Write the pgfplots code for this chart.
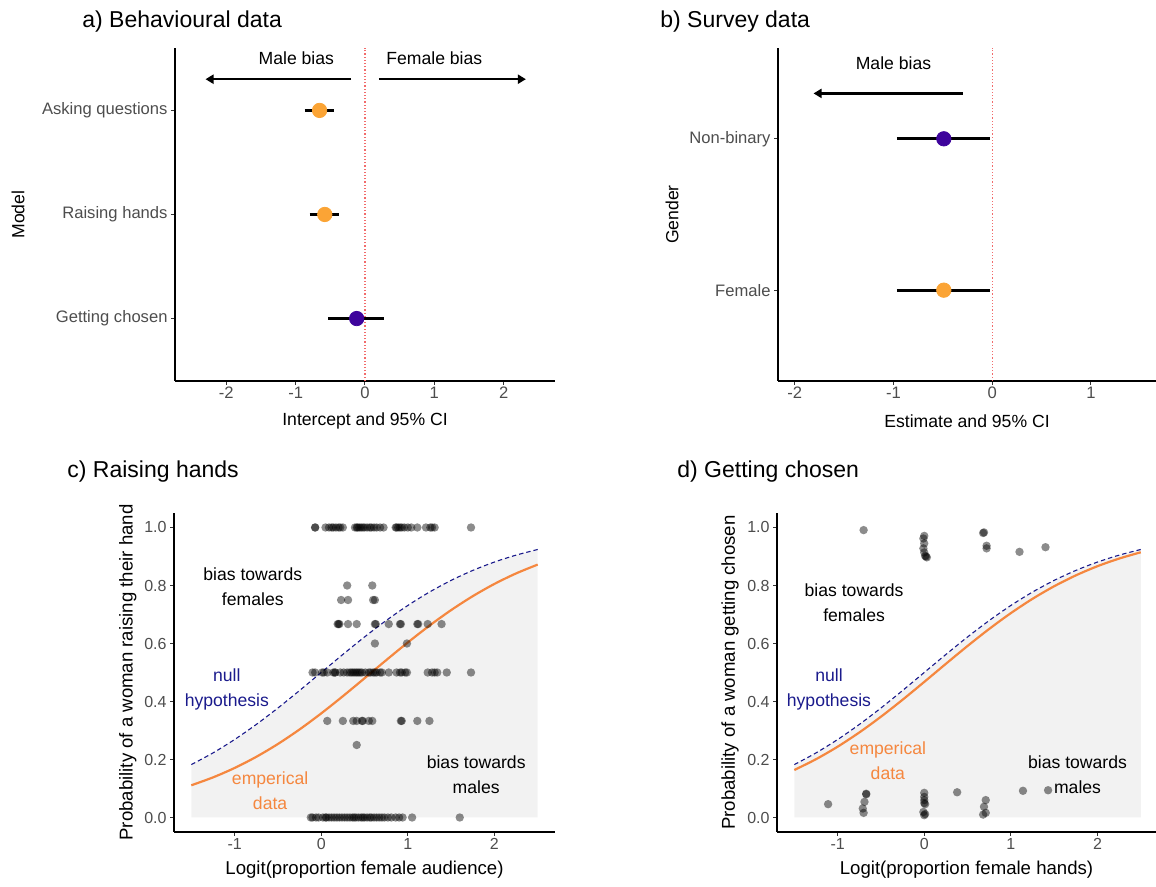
\documentclass[border=0pt]{standalone}
\usepackage{fontspec}
\setmainfont{Liberation Sans}
\setsansfont{Liberation Sans}
\usepackage{pgfplots}
\pgfplotsset{compat=1.18}
\usetikzlibrary{arrows.meta}

\definecolor{ptorange}{HTML}{FBA435}
\definecolor{ptpurple}{HTML}{3E049C}
\definecolor{nullblue}{HTML}{1A1A8C}
\definecolor{empor}{HTML}{F5873F}
\definecolor{vred}{HTML}{F26B6B}
\definecolor{ticktext}{HTML}{4D4D4D}

\tikzset{ann/.style={font=\fontsize{8.8}{12.5}\selectfont, align=center},
  ptitle/.style={anchor=west, inner sep=0pt, font=\fontsize{11.5}{13}\selectfont}}

\pgfplotsset{
  gg/.style={
    scale only axis,
    axis x line*=bottom,
    axis y line*=left,
    axis line style={line width=0.6pt, black},
    tick align=outside,
    major tick length=2pt,
    tick style={line width=0.5pt, black!80},
    ticklabel style={font=\fontsize{8.3}{10}\selectfont, text=ticktext},
    yticklabel style={xshift=1.8pt},
    xticklabel style={yshift=2.5pt},
    label style={font=\fontsize{8.8}{10}\selectfont},
    /pgf/number format/assume math mode=true,
    clip=false,
  },
  jit/.style={only marks, mark=*, mark size=2.1pt,
    mark options={fill=black, fill opacity=0.45, draw opacity=0}},
  ci/.style={black, line width=1.4pt},
  bigpt/.style={only marks, mark=*, mark size=3.6pt},
  biasarrow/.style={black, line width=1.2pt, -{Triangle[length=4pt,width=4.5pt]}},
}

\begin{document}
\begin{tikzpicture}
\path[use as bounding box] (0,0) rectangle (578pt,443.5pt);

% panel titles
\node[ptitle] at (41pt,432.5pt) {a) Behavioural data};
\node[ptitle] at (330pt,432.5pt) {b) Survey data};
\node[ptitle] at (33.5pt,207.5pt) {c) Raising hands};
\node[ptitle] at (338.5pt,207.5pt) {d) Getting chosen};

% a) Behavioural data
\begin{axis}[gg, at={(87.5pt,253pt)}, anchor=south west, width=190pt, height=166.5pt,
  xmin=-2.74, xmax=2.74, ymin=0.4, ymax=3.6,
  xtick={-2,-1,0,1,2}, ytick={1,2,3},
  yticklabels={Getting chosen, Raising hands, Asking questions},
  xlabel={Intercept and 95\% CI}, ylabel={Model},
  xlabel style={at={(axis description cs:0.5,-0.12)}, anchor=center},
  ylabel style={at={(axis description cs:-0.413,0.5)}, anchor=center},
]
\addplot[vred, densely dotted, line width=0.6pt] coordinates {(0,0.4) (0,3.6)};
\addplot[bigpt, mark options={fill=ptorange, draw=ptorange}] coordinates {(-0.655,3) (-0.58,2)};
\addplot[bigpt, mark options={fill=ptpurple, draw=ptpurple}] coordinates {(-0.12,1)};
\addplot[ci] coordinates {(-0.87,3) (-0.44,3)};
\addplot[ci] coordinates {(-0.80,2) (-0.38,2)};
\addplot[ci] coordinates {(-0.53,1) (0.28,1)};
\addplot[biasarrow] coordinates {(-0.2,3.3) (-2.3,3.3)};
\addplot[biasarrow] coordinates {(0.2,3.3) (2.32,3.3)};
\node[ann] at (axis cs:-0.99,3.5) {Male bias};
\node[ann] at (axis cs:1.0,3.5) {Female bias};
\end{axis}

% b) Survey data
\begin{axis}[gg, at={(389pt,253pt)}, anchor=south west, width=189pt, height=166.5pt,
  xmin=-2.17, xmax=1.66, ymin=0.4, ymax=2.6,
  xtick={-2,-1,0,1}, ytick={1,2},
  yticklabels={Female, Non-binary},
  xlabel={Estimate and 95\% CI}, ylabel={Gender},
  xlabel style={at={(axis description cs:0.5,-0.12)}, anchor=center},
  ylabel style={at={(axis description cs:-0.280,0.5)}, anchor=center},
]
\addplot[vred, densely dotted, line width=0.6pt] coordinates {(0,0.4) (0,2.6)};
\addplot[bigpt, mark options={fill=ptorange, draw=ptorange}] coordinates {(-0.49,1)};
\addplot[bigpt, mark options={fill=ptpurple, draw=ptpurple}] coordinates {(-0.49,2)};
\addplot[ci] coordinates {(-0.965,2) (-0.02,2)};
\addplot[ci] coordinates {(-0.965,1) (-0.02,1)};
\addplot[biasarrow] coordinates {(-0.30,2.3) (-1.81,2.3)};
\node[ann] at (axis cs:-1.0,2.5) {Male bias};
\end{axis}

% c) Raising hands
\begin{axis}[gg, at={(87pt,27.5pt)}, anchor=south west, width=190.5pt, height=159.5pt,
  xmin=-1.7, xmax=2.7, ymin=-0.05, ymax=1.05,
  xtick={-1,0,1,2}, ytick={0,0.2,0.4,0.6,0.8,1},
  yticklabel style={/pgf/number format/.cd, fixed, fixed zerofill, precision=1},
  ticklabel style={font=\fontsize{8}{10}\selectfont},
  label style={font=\fontsize{9.3}{11}\selectfont},
  xlabel={Logit(proportion female audience)},
  ylabel={Probability of a woman raising their hand},
  xlabel style={at={(axis description cs:0.5,-0.119)}, anchor=center},
  ylabel style={at={(axis description cs:-0.121,0.5)}, anchor=center},
]
\addplot[draw=none, fill=gray!10, smooth] coordinates {
(-1.5,0.18243) (-1.25,0.22270) (-1.0,0.26894) (-0.75,0.32082) (-0.5,0.37754)
(-0.25,0.43782) (0,0.5) (0.25,0.56218) (0.5,0.62246) (0.75,0.67918) (1.0,0.73106)
(1.25,0.77730) (1.5,0.81757) (1.75,0.85195) (2.0,0.88080) (2.25,0.90465) (2.5,0.92414)} \closedcycle;
\addplot[nullblue, line width=0.55pt, dash pattern=on 2.2pt off 1.5pt, smooth] coordinates {
(-1.5,0.18243) (-1.25,0.22270) (-1.0,0.26894) (-0.75,0.32082) (-0.5,0.37754)
(-0.25,0.43782) (0,0.5) (0.25,0.56218) (0.5,0.62246) (0.75,0.67918) (1.0,0.73106)
(1.25,0.77730) (1.5,0.81757) (1.75,0.85195) (2.0,0.88080) (2.25,0.90465) (2.5,0.92414)};
\addplot[empor, line width=1.1pt, smooth] coordinates {
(-1.5,0.11106) (-1.25,0.13824) (-1.0,0.17079) (-0.75,0.20916) (-0.5,0.25350)
(-0.25,0.30365) (0,0.35894) (0.25,0.41824) (0.5,0.48001) (0.75,0.54240) (1.0,0.60349)
(1.25,0.66150) (1.5,0.71505) (1.75,0.76314) (2.0,0.80535) (2.25,0.84157) (2.5,0.87213)};
% proportion 1
\addplot[jit] coordinates {
(-0.07,1) (-0.07,1) (0.05,1) (0.09,1) (0.12,1) (0.14,1) (0.17,1) (0.20,1) (0.22,1) (0.25,1)
(0.39,1) (0.41,1) (0.42,1) (0.44,1) (0.46,1) (0.48,1) (0.50,1) (0.53,1) (0.56,1) (0.58,1)
(0.61,1) (0.64,1) (0.68,1) (0.72,1) (0.86,1) (0.87,1) (0.89,1) (0.91,1) (0.93,1) (0.96,1)
(1.00,1) (1.04,1) (1.11,1) (1.21,1) (1.26,1) (1.28,1) (1.31,1) (1.73,1)};
% 0.8, 0.75, 0.667, 0.6
\addplot[jit] coordinates {
(0.30,0.8) (0.59,0.8)
(0.23,0.75) (0.31,0.75) (0.60,0.75) (0.62,0.75)
(0.19,0.667) (0.20,0.667) (0.21,0.667) (0.31,0.667) (0.41,0.667) (0.62,0.667) (0.63,0.667)
(0.78,0.667) (0.91,0.667) (0.92,0.667) (1.11,0.667) (1.12,0.667) (1.23,0.667) (1.39,0.667)
(0.62,0.6) (0.99,0.6)};
% 0.5
\addplot[jit] coordinates {
(-0.10,0.5) (-0.07,0.5) (0.01,0.5) (0.03,0.5) (0.07,0.5) (0.14,0.5) (0.16,0.5) (0.16,0.5)
(0.22,0.5) (0.26,0.5) (0.30,0.5) (0.33,0.5) (0.35,0.5) (0.37,0.5) (0.39,0.5) (0.41,0.5)
(0.43,0.5) (0.45,0.5) (0.47,0.5) (0.51,0.5) (0.55,0.5) (0.57,0.5) (0.60,0.5) (0.62,0.5)
(0.64,0.5) (0.68,0.5) (0.70,0.5) (0.78,0.5) (0.87,0.5) (0.91,0.5) (0.93,0.5) (0.97,0.5)
(0.99,0.5) (1.23,0.5) (1.28,0.5) (1.31,0.5) (1.34,0.5) (1.45,0.5) (1.73,0.5)};
% 0.333, 0.25
\addplot[jit] coordinates {
(0.07,0.333) (0.25,0.333) (0.37,0.333) (0.41,0.333) (0.47,0.333) (0.48,0.333) (0.55,0.333)
(0.59,0.333) (0.92,0.333) (0.93,0.333) (1.11,0.333) (1.25,0.333)
(0.41,0.25)};
% proportion 0
\addplot[jit] coordinates {
(-0.12,0) (-0.10,0) (-0.06,0) (-0.03,0) (0.02,0) (0.05,0) (0.06,0) (0.09,0) (0.12,0) (0.15,0)
(0.18,0) (0.21,0) (0.24,0) (0.27,0) (0.30,0) (0.33,0) (0.36,0) (0.38,0) (0.40,0) (0.43,0)
(0.46,0) (0.48,0) (0.50,0) (0.53,0) (0.56,0) (0.58,0) (0.61,0) (0.64,0) (0.67,0) (0.70,0)
(0.73,0) (0.77,0) (0.81,0) (0.86,0) (0.90,0) (0.94,0) (1.05,0) (1.60,0)};
\node[ann] at (axis cs:-0.79,0.795) {bias towards\\females};
\node[ann, text=nullblue] at (axis cs:-1.09,0.44) {null\\hypothesis};
\node[ann, text=empor] at (axis cs:-0.59,0.094) {emperical\\data};
\node[ann] at (axis cs:1.79,0.146) {bias towards\\males};
\end{axis}

% d) Getting chosen
\begin{axis}[gg, at={(388.5pt,27.5pt)}, anchor=south west, width=189.5pt, height=159.5pt,
  xmin=-1.7, xmax=2.676, ymin=-0.05, ymax=1.05,
  xtick={-1,0,1,2}, ytick={0,0.2,0.4,0.6,0.8,1},
  yticklabel style={/pgf/number format/.cd, fixed, fixed zerofill, precision=1},
  ticklabel style={font=\fontsize{8}{10}\selectfont},
  label style={font=\fontsize{9.3}{11}\selectfont},
  xlabel={Logit(proportion female hands)},
  ylabel={Probability of a woman getting chosen},
  xlabel style={at={(axis description cs:0.5,-0.119)}, anchor=center},
  ylabel style={at={(axis description cs:-0.124,0.5)}, anchor=center},
]
\addplot[draw=none, fill=gray!10, smooth] coordinates {
(-1.5,0.18243) (-1.25,0.22270) (-1.0,0.26894) (-0.75,0.32082) (-0.5,0.37754)
(-0.25,0.43782) (0,0.5) (0.25,0.56218) (0.5,0.62246) (0.75,0.67918) (1.0,0.73106)
(1.25,0.77730) (1.5,0.81757) (1.75,0.85195) (2.0,0.88080) (2.25,0.90465) (2.5,0.92414)} \closedcycle;
\addplot[nullblue, line width=0.55pt, dash pattern=on 2.2pt off 1.5pt, smooth] coordinates {
(-1.5,0.18243) (-1.25,0.22270) (-1.0,0.26894) (-0.75,0.32082) (-0.5,0.37754)
(-0.25,0.43782) (0,0.5) (0.25,0.56218) (0.5,0.62246) (0.75,0.67918) (1.0,0.73106)
(1.25,0.77730) (1.5,0.81757) (1.75,0.85195) (2.0,0.88080) (2.25,0.90465) (2.5,0.92414)};
\addplot[empor, line width=1.1pt, smooth] coordinates {
(-1.5,0.16383) (-1.25,0.20101) (-1.0,0.24416) (-0.75,0.29318) (-0.5,0.34753)
(-0.25,0.40613) (0,0.46755) (0.25,0.52996) (0.5,0.59146) (0.75,0.65022) (1.0,0.70475)
(1.25,0.75399) (1.5,0.79738) (1.75,0.83480) (2.0,0.86655) (2.25,0.89283) (2.5,0.91451)};
% chosen
\addplot[jit] coordinates {
(-0.70,0.991)
(0.00,0.971) (-0.01,0.962) (0.00,0.945) (-0.01,0.928) (0.00,0.914) (0.01,0.902) (0.03,0.897) (0.02,0.900)
(0.68,0.981) (0.69,0.983) (0.72,0.937) (0.72,0.928)
(1.10,0.916) (1.40,0.932)};
% not chosen
\addplot[jit] coordinates {
(-1.11,0.046)
(-0.67,0.080) (-0.67,0.082) (-0.69,0.054) (-0.71,0.031) (-0.70,0.016)
(0.00,0.085) (0.00,0.071) (0.00,0.060) (0.00,0.050) (0.01,0.046) (-0.01,0.019) (0.00,0.008) (0.01,0.012)
(0.38,0.087)
(0.71,0.060) (0.69,0.037) (0.71,0.016) (0.68,0.010)
(1.14,0.092) (1.43,0.094)};
\node[ann] at (axis cs:-0.81,0.742) {bias towards\\females};
\node[ann, text=nullblue] at (axis cs:-1.10,0.44) {null\\hypothesis};
\node[ann, text=empor] at (axis cs:-0.42,0.195) {emperical\\data};
\node[ann] at (axis cs:1.77,0.146) {bias towards\\males};
\end{axis}
\end{tikzpicture}
\end{document}
